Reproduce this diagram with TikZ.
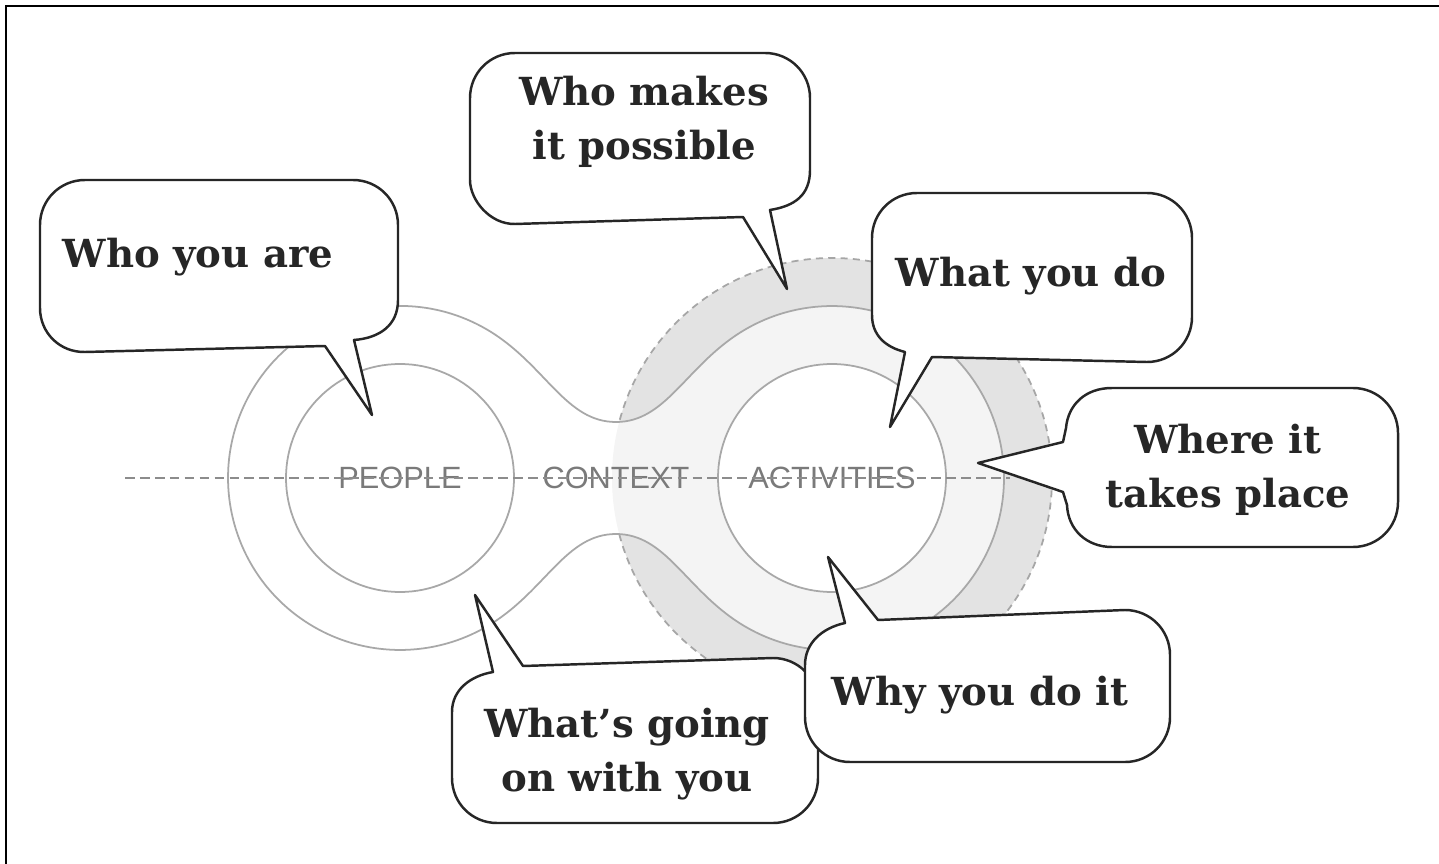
\documentclass[tikz,border=0pt]{standalone}
\usepackage{fontspec}
\setmainfont{DejaVu Serif}
\newfontfamily\partfont{Liberation Sans}
\usepackage{xcolor}
\usepackage{tikz}
\usetikzlibrary{positioning}

\definecolor{ringgray}{HTML}{A8A8A8}
\definecolor{ctxdark}{HTML}{E3E3E3}
\definecolor{ctxlight}{HTML}{F4F4F4}
\definecolor{labelgray}{HTML}{7A7A7A}

\begin{document}
\begin{tikzpicture}[
    x=0.02cm, y=-0.02cm,
    say/.style={font=\fontsize{22}{31}\selectfont\bfseries, align=center, text=black!85},
    part/.style={font=\partfont\fontsize{17.5}{20}\selectfont, text=labelgray},
    bubble/.style={draw=black!85, line width=1.4pt, fill=white, line join=round},
    ring/.style={draw=ringgray, line width=1pt},
    axis/.style={draw=black!45, line width=1.2pt, dash pattern=on 5.5pt off 3pt}
]
% Centres of the two rings
\def\cyA{478}
\def\cxL{400}
\def\cxR{832}

% outline of the joined rings
\def\peanut{(491.2,332.1) arc[start angle=-58, end angle=-302, radius=172]
    .. controls (546.3,589.4) and (566,534) .. (616,534)
    .. controls (666,534) and (685.7,589.4) .. (740.8,623.9)
    arc[start angle=122, end angle=-122, radius=172]
    .. controls (685.7,366.6) and (666,422) .. (616,422)
    .. controls (566,422) and (546.3,366.6) .. (491.2,332.1) -- cycle}

\useasboundingbox (0,0) rectangle (1439,864);
\fill[white] (0,0) rectangle (1439,864);

% frame
\draw[line width=1.6pt] (1439,6) -- (6,6) -- (6,864);

% === Context disc ===
\fill[ctxdark] (\cxR,\cyA) circle[radius=220];
\draw[ring, draw=black!35, dash pattern=on 4pt off 3pt] (\cxR,\cyA) circle[radius=220];

% === Rings ===
\fill[white] \peanut;
\begin{scope}
  \clip (\cxR,\cyA) circle[radius=220];
  \fill[ctxlight] \peanut;
\end{scope}
\draw[ring] \peanut;
\draw[ring, fill=white] (\cxL,\cyA) circle[radius=114];
\draw[ring, fill=white] (\cxR,\cyA) circle[radius=114];

% === Labels on the axis ===
\node[part] (people) at (\cxL,\cyA) {PEOPLE};
\node[part] (context) at (616,\cyA) {CONTEXT};
\node[part] (activities) at (\cxR,\cyA) {ACTIVITIES};

\coordinate (axisL) at (125,\cyA);
\coordinate (axisR) at (1010,\cyA);
\draw[axis] (axisL) -- (axisR);

% === Speech bubbles ===
\draw[bubble] (372,415) -- (325,346) -- (85,352) .. controls (60,352.5) and (40,333) .. (40,308)
  -- (40,225) .. controls (40,200) and (60,180) .. (85,180) -- (353,180)
  .. controls (378,180) and (398,200) .. (398,225) -- (398,300)
  .. controls (398,325) and (380,338) .. (354,340) -- cycle;
\node[say, anchor=base] (who) at (198,268) {Who you are};

\draw[bubble] (787,289) -- (743,217) -- (515,224) .. controls (490,224.5) and (470,200) .. (470,180)
  -- (470,98) .. controls (470,73) and (490,53) .. (515,53) -- (765,53)
  .. controls (790,53) and (810,73) .. (810,98) -- (810,170)
  .. controls (810,195) and (795,206) .. (770,210) -- cycle;
\node[say] (makes) at (644,122) {Who makes\\it possible};

\draw[bubble] (890,427) -- (932,357) -- (1147,362) .. controls (1172,362) and (1192,342) .. (1192,317)
  -- (1192,238) .. controls (1192,213) and (1172,193) .. (1147,193) -- (917,193)
  .. controls (892,193) and (872,213) .. (872,238) -- (872,315)
  .. controls (872,335) and (885,347) .. (905,352) -- cycle;
\node[say, anchor=base] (what) at (1031,287) {What you do};

\draw[bubble] (978,463) -- (1063,442) -- (1066,428) .. controls (1068,405) and (1085,388) .. (1112,388)
  -- (1353,388) .. controls (1378,388) and (1398,408) .. (1398,433) -- (1398,502)
  .. controls (1398,527) and (1378,547) .. (1353,547) -- (1112,547)
  .. controls (1087,547) and (1068,530) .. (1067,505) -- (1063,492) -- cycle;
\node[say] (where) at (1228,470) {Where it\\takes place};

\draw[bubble] (475,595) -- (523,666) -- (773,658) .. controls (798,658) and (818,678) .. (818,703)
  -- (818,778) .. controls (818,803) and (798,823) .. (773,823) -- (497,823)
  .. controls (472,823) and (452,803) .. (452,778) -- (452,712)
  .. controls (452,690) and (470,676) .. (493,672) -- cycle;
\node[say] (going) at (627,754) {What’s going\\on with you};

\draw[bubble] (828,557) -- (878,620) -- (1125,610) .. controls (1150,610) and (1170,630) .. (1170,655)
  -- (1170,717) .. controls (1170,742) and (1150,762) .. (1125,762) -- (850,762)
  .. controls (825,762) and (805,742) .. (805,717) -- (805,665)
  .. controls (805,643) and (822,628) .. (845,623) -- cycle;
\node[say, anchor=base] (why) at (980,705) {Why you do it};

\end{tikzpicture}
\end{document}
